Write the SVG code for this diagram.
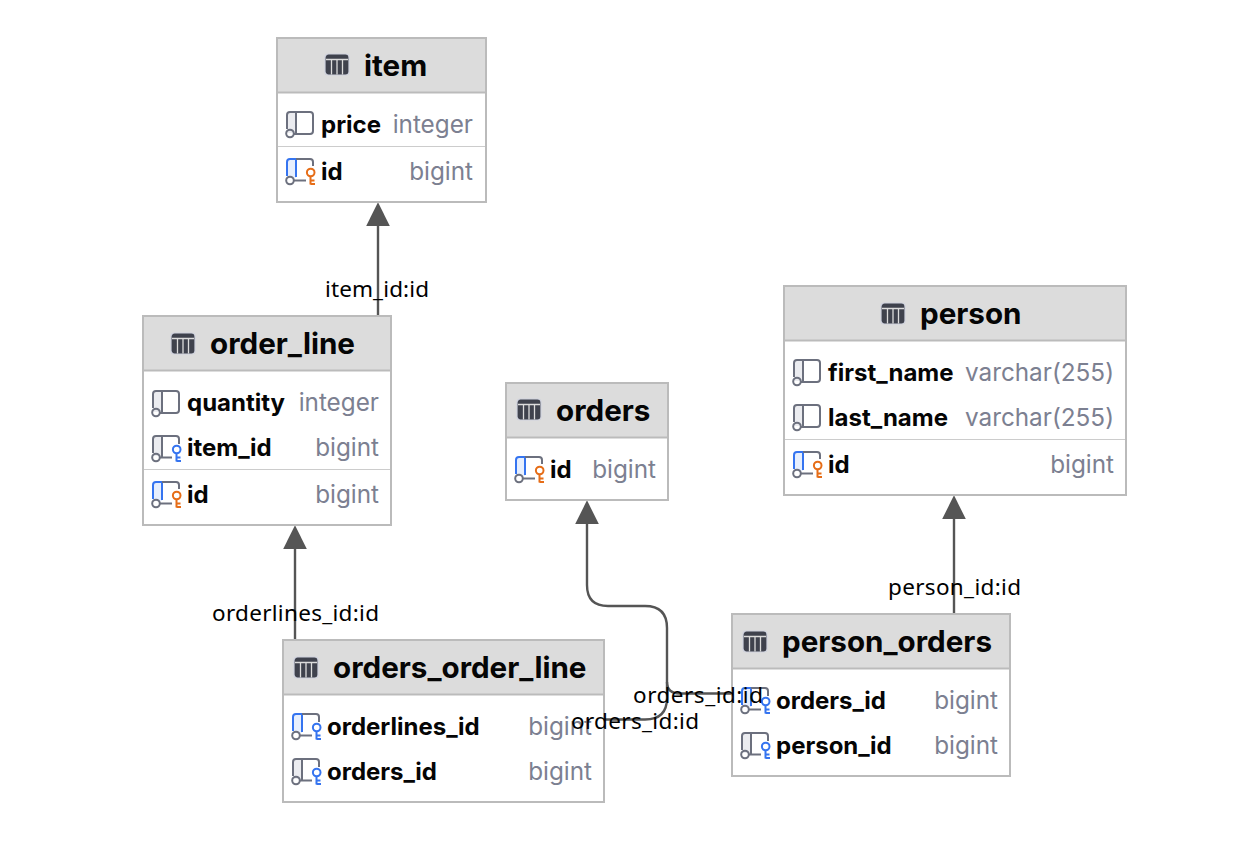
<svg xmlns="http://www.w3.org/2000/svg" width="1256" height="866" viewBox="0 0 1256 866">
<style>
.box{fill:#fff;stroke:#bbb;stroke-width:2}
.hd{fill:#dcdcdc}
.hl{stroke:#bbb;stroke-width:2;fill:none}
.sep{stroke:#ccc;stroke-width:1;fill:none}
.t{font:700 29.6px Inter,"Liberation Sans",sans-serif;fill:#050505}
.n{font:700 24px Inter,"Liberation Sans",sans-serif;fill:#050505}
.y{font:400 24.3px Inter,"Liberation Sans",sans-serif;fill:#7c8091;text-anchor:end}
.l{font:400 22.5px "Noto Sans","DejaVu Sans",sans-serif;fill:#000}
.c{fill:none;stroke:#555;stroke-width:2.4}
.g{fill:none;stroke:#6c707e;stroke-width:2}
.b{fill:none;stroke:#3574f0;stroke-width:2}
.o{fill:none;stroke:#e66d17;stroke-width:2}
</style>
<defs>
<marker id="ah" markerUnits="userSpaceOnUse" markerWidth="24" markerHeight="24" refX="15" refY="11" orient="auto" viewBox="0 0 22 22"><path d="M0 0L22 11L0 22Z" fill="#555"/></marker>
<g id="ti"><rect x="0" y="0" width="24" height="21" rx="3.500" fill="#3f424d" stroke="#cfd2de" stroke-width="1.200"/><path d="M1 5.500H23M6.500 5.500V20.500M12 5.500V20.500M17.500 5.500V20.500" stroke="#dcdcdc" stroke-width="1.300" fill="none"/></g>
<g id="col"><rect x="2" y="1" width="9" height="20" fill="#ebecf0"/><path d="M2 17V3Q2 0 5 0H25Q28 0 28 3V19Q28 22 25 22H9" class="g"/><path d="M11 0V22" class="g"/><circle cx="5" cy="21.500" r="3.800" fill="#fff" class="g"/></g>
<g id="pk"><rect x="2" y="1" width="9" height="18" fill="#e7effd"/><path d="M2 17V3Q2 0 5 0H11V18" class="b"/><path d="M11 0H25Q28 0 28 3V7" class="g"/><path d="M9 21.500H21" class="g"/><circle cx="5" cy="21.500" r="3.800" fill="#fff" class="g"/><circle cx="25.700" cy="13.500" r="3.800" fill="#fff" class="o"/><path d="M25.500 17.500V25.500M25.500 25H30M25.500 21.500H29.500" class="o"/></g>
<g id="fk"><rect x="2" y="1" width="9" height="19" fill="#ebecf0"/><path d="M28 8V3Q28 0 25 0H5Q2 0 2 3V17" class="g"/><path d="M11 0V21.500M9 21.500H21" class="g"/><circle cx="5" cy="21.500" r="3.800" fill="#fff" class="g"/><circle cx="25.700" cy="13.500" r="3.800" fill="#fff" class="b"/><path d="M25.500 17.500V25.500M25.500 25H30M25.500 21.500H29.500" class="b"/></g>
<g id="pf"><rect x="2" y="1" width="9" height="18" fill="#e7effd"/><path d="M2 17V3Q2 0 5 0H11V18" class="b"/><path d="M11 0H25Q28 0 28 3V8" class="g"/><path d="M9 21.500H21" class="g"/><circle cx="5" cy="21.500" r="3.800" fill="#fff" class="g"/><circle cx="25.700" cy="13.500" r="3.800" fill="#fff" class="b"/><path d="M25.500 17.500V25.500M25.500 25H30M25.500 21.500H29.500" class="b"/></g>
</defs>
<rect width="1256" height="866" fill="#fff"/>
<g id="connectors">
<path class="c" d="M378 315V210" marker-end="url(#ah)"/>
<path class="c" d="M295 639V533" marker-end="url(#ah)"/>
<path class="c" d="M954 613V503" marker-end="url(#ah)"/>
<path class="c" d="M740 693.500H680Q667 693.500 667 682V628Q667 606 645 606H608Q587 606 587 585V508" marker-end="url(#ah)"/>
<path class="c" d="M604 719.500H645Q667 719.500 667 698V682"/>
</g>
<g id="item">
<rect class="box" x="277" y="38" width="209" height="164"/><rect class="hd" x="278" y="39" width="207" height="53"/><path class="hl" d="M278 92.500H485"/><path class="sep" d="M278 146.500H485"/>
<use href="#ti" x="325" y="54"/><text class="t" x="364" y="76">item</text>
<use href="#col" x="285" y="112"/><text class="n" x="321" y="133">price</text><text class="y" x="473" y="133">integer</text>
<use href="#pk" x="285" y="159"/><text class="n" x="321" y="180">id</text><text class="y" x="473" y="180">bigint</text>
</g>
<g id="order_line">
<rect class="box" x="143" y="316" width="248" height="209"/><rect class="hd" x="144" y="317" width="246" height="53"/><path class="hl" d="M144 370.500H390"/><path class="sep" d="M144 469.500H390"/>
<use href="#ti" x="171" y="333"/><text class="t" x="210" y="354">order_line</text>
<use href="#col" x="151" y="391"/><text class="n" x="187" y="411">quantity</text><text class="y" x="379" y="411">integer</text>
<use href="#fk" x="151" y="436"/><text class="n" x="187" y="456">item_id</text><text class="y" x="379" y="456">bigint</text>
<use href="#pk" x="151" y="482"/><text class="n" x="187" y="503">id</text><text class="y" x="379" y="503">bigint</text>
</g>
<g id="orders">
<rect class="box" x="506" y="383" width="162" height="117"/><rect class="hd" x="507" y="384" width="160" height="53"/><path class="hl" d="M507 437.500H667"/>
<use href="#ti" x="517" y="399"/><text class="t" x="556" y="421">orders</text>
<use href="#pk" x="514" y="457"/><text class="n" x="550" y="478">id</text><text class="y" x="656" y="478">bigint</text>
</g>
<g id="person">
<rect class="box" x="784" y="286" width="342" height="209"/><rect class="hd" x="785" y="287" width="340" height="53"/><path class="hl" d="M785 340.500H1125"/><path class="sep" d="M785 439.500H1125"/>
<use href="#ti" x="881" y="303"/><text class="t" x="920" y="324">person</text>
<use href="#col" x="792" y="360"/><text class="n" x="828" y="381">first_name</text><text class="y" x="1114" y="381">varchar(255)</text>
<use href="#col" x="792" y="405"/><text class="n" x="828" y="426">last_name</text><text class="y" x="1114" y="426">varchar(255)</text>
<use href="#pk" x="792" y="452"/><text class="n" x="828" y="473">id</text><text class="y" x="1114" y="473">bigint</text>
</g>
<g id="orders_order_line">
<rect class="box" x="283" y="640" width="321" height="162"/><rect class="hd" x="284" y="641" width="319" height="53"/><path class="hl" d="M284 694.500H603"/>
<use href="#ti" x="294" y="657"/><text class="t" x="333" y="678">orders_order_line</text>
<use href="#pf" x="291" y="714"/><text class="n" x="327" y="735">orderlines_id</text><text class="y" x="592" y="735">bigint</text>
<use href="#fk" x="291" y="759"/><text class="n" x="327" y="780">orders_id</text><text class="y" x="592" y="780">bigint</text>
</g>
<g id="person_orders">
<rect class="box" x="732" y="614" width="278" height="162"/><rect class="hd" x="733" y="615" width="276" height="53"/><path class="hl" d="M733 668.500H1009"/>
<use href="#ti" x="743" y="631"/><text class="t" x="782" y="652">person_orders</text>
<use href="#pf" x="740" y="688"/><text class="n" x="776" y="709">orders_id</text><text class="y" x="998" y="709">bigint</text>
<use href="#fk" x="740" y="733"/><text class="n" x="776" y="754">person_id</text><text class="y" x="998" y="754">bigint</text>
</g>
<g id="labels">
<text class="l" x="325" y="297" textLength="104">item_id:id</text>
<text class="l" x="212" y="621" textLength="167">orderlines_id:id</text>
<text class="l" x="888" y="595" textLength="133">person_id:id</text>
<text class="l" x="633" y="703" textLength="130">orders_id:id</text>
<text class="l" x="571" y="729" textLength="128">orders_id:id</text>
</g>
</svg>
